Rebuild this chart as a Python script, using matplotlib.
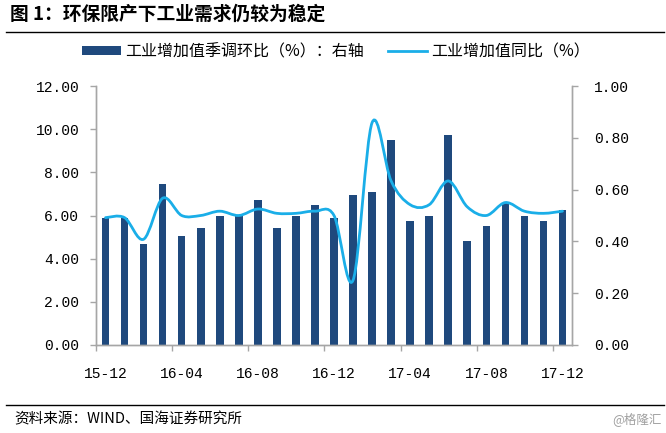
import matplotlib
matplotlib.use('Agg')
import matplotlib.pyplot as plt
from matplotlib.path import Path
from matplotlib.patches import PathPatch, Patch
from matplotlib.lines import Line2D

plt.rcParams['font.family'] = ['Noto Sans CJK SC', 'DejaVu Sans']

# 数据
months = ['15-12', '16-01', '16-02', '16-03', '16-04', '16-05', '16-06', '16-07', '16-08',
          '16-09', '16-10', '16-11', '16-12', '17-01', '17-02', '17-03', '17-04', '17-05',
          '17-06', '17-07', '17-08', '17-09', '17-10', '17-11', '17-12']
# 工业增加值季调环比（%），右轴
mom_sa = [0.49, 0.49, 0.39, 0.62, 0.42, 0.45, 0.50, 0.50, 0.56, 0.45, 0.50, 0.54, 0.49,
          0.58, 0.59, 0.79, 0.48, 0.50, 0.81, 0.40, 0.46, 0.55, 0.50, 0.48, 0.52]
# 工业增加值同比（%），左轴
yoy = [5.9, 5.9, 4.9, 6.8, 6.0, 6.0, 6.2, 6.0, 6.3, 6.1, 6.1, 6.2, 6.0,
       3.0, 10.3, 7.6, 6.5, 6.5, 7.6, 6.4, 6.0, 6.6, 6.2, 6.1, 6.2]

bar_color = '#1F497D'
line_color = '#1AAEE8'
axis_gray = '#A6A6A6'
tick_font = 'Liberation Mono'


def smooth_path(xs, ys):
    # Excel风格平滑线：贝塞尔曲线穿过每个数据点
    verts = [(xs[0], ys[0])]
    codes = [Path.MOVETO]
    n = len(xs)
    for i in range(n - 1):
        x0, y0 = (xs[i - 1], ys[i - 1]) if i > 0 else (xs[i], ys[i])
        x1, y1 = xs[i], ys[i]
        x2, y2 = xs[i + 1], ys[i + 1]
        x3, y3 = (xs[i + 2], ys[i + 2]) if i + 2 < n else (xs[i + 1], ys[i + 1])
        c1 = (x1 + (x2 - x0) / 6, y1 + (y2 - y0) / 6)
        c2 = (x2 - (x3 - x1) / 6, y2 - (y3 - y1) / 6)
        verts += [c1, c2, (x2, y2)]
        codes += [Path.CURVE4] * 3
    return Path(verts, codes)


def main():
    fig = plt.figure(figsize=(6.66, 4.33), dpi=100)
    ax = fig.add_axes([96 / 666, 88 / 433, 476 / 666, 259 / 433])
    ax2 = ax.twinx()
    ax.set_zorder(ax2.get_zorder() + 1)
    ax.patch.set_visible(False)

    x = list(range(len(months)))

    # 柱状图（右轴）
    ax2.bar(x, mom_sa, width=0.4, color=bar_color, zorder=2)
    ax2.set_ylim(0, 1.0)
    ax2.set_yticks([0, 0.2, 0.4, 0.6, 0.8, 1.0])
    ax2.set_yticklabels(['%.2f' % v for v in [0, 0.2, 0.4, 0.6, 0.8, 1.0]],
                        fontfamily=tick_font, fontsize=10.5)

    # 平滑折线（左轴）
    ax.add_patch(PathPatch(smooth_path(x, yoy), facecolor='none', edgecolor=line_color,
                           lw=2.0, capstyle='round', joinstyle='round'))
    ax.set_ylim(0, 12)
    ax.set_yticks(range(0, 13, 2))
    ax.set_yticklabels(['%.2f' % v for v in range(0, 13, 2)],
                       fontfamily=tick_font, fontsize=10.5)
    ax.set_xlim(-0.5, len(months) - 0.5)

    # x轴：标签在类别中心，刻度线在类别边界
    ax.set_xticks(x[::4])
    ax.set_xticklabels(months[::4], fontfamily=tick_font, fontsize=10.5)
    ax.set_xticks([i - 0.5 for i in x[::4]], minor=True)
    ax.tick_params(axis='x', which='major', length=0, pad=16, colors='black')
    ax.tick_params(axis='x', which='minor', length=4, color=axis_gray, width=1)
    ax.tick_params(axis='y', length=4, color=axis_gray, width=1, pad=8)
    ax2.tick_params(axis='y', length=4, color=axis_gray, width=1, pad=12)

    for a in (ax, ax2):
        a.spines['top'].set_visible(False)
        for s in ('left', 'right', 'bottom'):
            a.spines[s].set_color(axis_gray)
            a.spines[s].set_linewidth(1)

    # 图例
    handles = [Patch(facecolor=bar_color, edgecolor='none'),
               Line2D([], [], color=line_color, lw=2)]
    labels = ['工业增加值季调环比（%）：右轴', '工业增加值同比（%）']
    fig.legend(handles, labels, loc='center', bbox_to_anchor=(0.505, 1 - 52 / 433),
               ncol=2, frameon=False, fontsize=11.5, handlelength=2.4, handleheight=0.5,
               handletextpad=0.3, columnspacing=1.5)

    # 标题与分隔线
    fig.text(10 / 666, 1 - 14 / 433, '图 1：环保限产下工业需求仍较为稳定',
             fontsize=13.5, fontweight='bold', va='center', ha='left')
    fig.add_artist(Line2D([6 / 666, 664 / 666], [1 - 32 / 433] * 2,
                          transform=fig.transFigure, color='black', lw=1))
    fig.add_artist(Line2D([6 / 666, 664 / 666], [1 - 405 / 433] * 2,
                          transform=fig.transFigure, color='black', lw=1))

    # 资料来源
    fig.text(14 / 666, 1 - 419 / 433, '资料来源：WIND、国海证券研究所',
             fontsize=10.5, va='center', ha='left')
    fig.text(662 / 666, 1 - 419 / 433, '@格隆汇', fontsize=9, color='#A0A0A0',
             va='center', ha='right')

    plt.savefig('out.png', dpi=100)


if __name__ == '__main__':
    main()
